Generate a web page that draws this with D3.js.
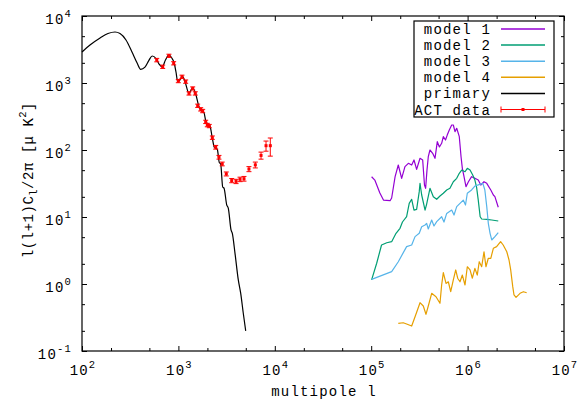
<!DOCTYPE html>
<html>
<head>
<meta charset="utf-8">
<script src="https://cdn.jsdelivr.net/npm/d3@7"></script>
<style>
  html, body { margin: 0; padding: 0; background: #fff; }
  svg { display: block; }
  text { font-family: "Liberation Mono", "Courier New", monospace; fill: #000; }
</style>
</head>
<body>
<div id="chart"></div>
<script>
// ---------- DATA ----------
const xTickValues = [1e2, 1e3, 1e4, 1e5, 1e6, 1e7];
const xTickExps   = ["2", "3", "4", "5", "6", "7"];
const yTickValues = [1e-1, 1e0, 1e1, 1e2, 1e3, 1e4];
const yTickExps   = ["-1", "0", "1", "2", "3", "4"];

const primaryL = [100,121,154,186,220,248,286,330,372,406,450,496,535,586,630,681,734,798,847,906,944,984,1040,1097,1170,1288,1407,1512,1636,1715,1844,1933,2127,2249,2356,2533,2656,2746,2881,2974,3170,3296,3515,3625,3866,4182,4426,4710,4990];
const primaryV = [2900,3690,4700,5480,5770,5480,4390,2900,2000,1600,1730,2200,2530,2320,1920,1750,2200,2620,2400,1970,1460,1046,1110,1270,1050,700,850,686,443,395,360,263,228,150,110,102,65,62,28,27,15.2,13.5,6.4,5.7,2.87,1.15,0.73,0.366,0.2];

const actL   = [596,687,798,893,998,1089,1190,1288,1407,1497,1585,1703,1786,1919,1995,2091,2249,2438,2636,2849,3140,3573,3963,4360,4790,5393,6280,7200,8110,8980];
const actV   = [2200,1750,2550,1970,1070,1240,1050,700,830,700,458,405,382,263,236,228,153,110,78,62,44,35,34,36.5,37.3,52,60,83,116,116];
const actErr = [130,100,140,110,60,70,60,40,45,40,26,23,22,15,14,13,9,7,5,4,3,2.5,2.5,2.8,3,4.5,6,10,20,35];

const model1L = [1.01e5,1.09e5,1.23e5,1.34e5,1.57e5,1.63e5,1.77e5,1.91e5,2.07e5,2.24e5,2.43e5,2.63e5,2.78e5,2.96e5,3.21e5,3.42e5,3.57e5,3.67e5,3.79e5,3.91e5,4.07e5,4.34e5,4.59e5,4.85e5,5.1e5,5.38e5,5.6e5,5.9e5,6.15e5,6.46e5,6.84e5,7.11e5,7.4e5,7.71e5,8.2e5,8.55e5,8.82e5,9.18e5,9.62e5,1.02e6,1.1e6,1.19e6,1.29e6,1.37e6,1.48e6,1.58e6,1.74e6,1.85e6,1.92e6,2.08e6];
const model1V = [39.9,35.6,22.8,17.9,17.5,19.2,40,59.7,37.8,56.4,63.3,59.7,71,51.5,75.2,71,30,26.8,50,79.4,100,89.3,75.2,133,111,126,158,141,167,199,236,236,188,211,158,79.4,53.3,40,28.3,33.6,40,37.8,35.6,30,33.6,31.8,25.3,21.3,20.1,14];

const model2L = [1.01e5,1.14e5,1.28e5,1.45e5,1.63e5,1.81e5,1.99e5,2.11e5,2.33e5,2.48e5,2.63e5,2.78e5,2.96e5,3.15e5,3.21e5,3.34e5,3.62e5,3.76e5,4.07e5,4.41e5,4.78e5,5.17e5,5.6e5,6.07e5,6.56e5,7.11e5,7.71e5,8.2e5,8.68e5,9.4e5,9.93e5,1.06e6,1.13e6,1.19e6,1.24e6,1.29e6,1.35e6,1.4e6,1.58e6,1.78e6,2.08e6];
const model2V = [1.15,2.04,3.82,4.13,4.28,5.71,6.78,8.42,10.1,16.0,18.4,12.7,13.0,23.9,31.8,21.3,12.7,15.6,26.8,20.1,18.4,20.6,22.6,25.3,26.8,33.6,37.8,44.9,50.2,47.4,53.3,50.2,42.4,35.6,27.7,17.9,10.1,9.33,9.24,9.02,8.71];

const model3L = [1.01e5,1.63e5,1.91e5,2.33e5,2.63e5,2.85e5,3.15e5,3.34e5,3.62e5,3.76e5,3.91e5,4.24e5,4.48e5,4.78e5,5.38e5,5.69e5,6.07e5,6.84e5,7.23e5,7.71e5,8.34e5,9.02e5,9.51e5,9.93e5,1.1e6,1.19e6,1.29e6,1.44e6,1.51e6,1.58e6,1.64e6,1.71e6,1.78e6,1.92e6,2.08e6];
const model3V = [1.17,1.53,2.15,3.61,3.82,5.09,5.71,7.17,7.60,8.05,6.62,9.02,7.35,8.51,10.1,8.42,11.3,12.7,10.7,14.3,16.0,17.9,15.1,22.6,25.3,29.0,30.1,31.8,25.3,14.3,8.05,5.71,4.54,5.09,5.84];

const model4L = [1.91e5,2.15e5,2.33e5,2.63e5,2.85e5,3.21e5,3.47e5,3.7e5,3.91e5,4.24e5,4.7e5,5.17e5,5.38e5,5.6e5,5.97e5,6.31e5,6.68e5,7.11e5,7.53e5,7.89e5,8.34e5,8.82e5,9.4e5,9.93e5,1.06e6,1.12e6,1.19e6,1.26e6,1.32e6,1.4e6,1.48e6,1.55e6,1.64e6,1.74e6,1.85e6,2.0e6,2.2e6,2.34e6,2.55e6,2.69e6,2.8e6,2.94e6,3.03e6,3.18e6,3.5e6,3.79e6,4.1e6];
const model4V = [0.259,0.264,0.253,0.236,0.325,0.526,0.470,0.353,0.470,0.726,0.646,0.515,0.966,1.48,1.02,1.08,0.767,1.15,1.62,1.22,1.08,1.36,0.966,1.81,1.62,1.22,1.71,1.36,2.15,1.81,3.03,1.81,2.42,2.42,3.41,3.61,4.28,3.82,3.03,2.28,1.62,0.912,0.686,0.633,0.726,0.767,0.741];

const seriesNames  = ["model 1", "model 2", "model 3", "model 4", "primary"];
const seriesColors = ["#9400d3", "#009e73", "#56b4e9", "#e69f00", "#000000"];
const actName = "ACT data";
const actColor = "#ff0000";

// ---------- CHART ----------
const W = 585, H = 402;
const M = {left: 82, right: 21, top: 16, bottom: 51};
const svg = d3.select("#chart").append("svg").attr("width", W).attr("height", H);

const x = d3.scaleLog().domain([1e2, 1e7]).range([M.left, W - M.right]);
const y = d3.scaleLog().domain([1e-1, 1e4]).range([H - M.bottom, M.top]);
const x0 = M.left, x1 = W - M.right, y0 = H - M.bottom, y1 = M.top;

const FS = "14px", LS = "1.2px", SUPFS = "10.5px";

// minor ticks (2 and 5 per decade)
const xMinor = [], yMinor = [];
xTickValues.slice(0, -1).forEach(d => { xMinor.push(2 * d, 5 * d); });
yTickValues.slice(0, -1).forEach(d => { yMinor.push(2 * d, 5 * d); });

const axisG = svg.append("g");
function drawAxis(gen, tx, ty, values, size) {
  axisG.append("g").attr("transform", `translate(${tx},${ty})`)
    .call(gen.tickValues(values).tickSizeInner(size).tickSizeOuter(0).tickFormat(""))
    .call(g => g.select(".domain").remove())
    .call(g => g.selectAll("line").attr("stroke", "#000").attr("stroke-width", 1));
}
[[xTickValues, -5], [xMinor, -3]].forEach(([v, s]) => {
  drawAxis(d3.axisBottom(x), 0, y0, v, s);
  drawAxis(d3.axisTop(x), 0, y1, v, s);
});
[[yTickValues, -5], [yMinor, -3]].forEach(([v, s]) => {
  drawAxis(d3.axisLeft(y), x0, 0, v, s);
  drawAxis(d3.axisRight(y), x1, 0, v, s);
});

// frame
svg.append("rect").attr("x", x0).attr("y", y1).attr("width", x1 - x0).attr("height", y0 - y1)
  .attr("fill", "none").attr("stroke", "#000").attr("stroke-width", 1.2);

// tick labels
xTickValues.forEach((v, i) => {
  const t = svg.append("text").attr("x", x(v) + 1).attr("y", 375).attr("text-anchor", "middle")
    .style("font-size", FS).style("letter-spacing", LS).attr("fill", "#222");
  t.append("tspan").text("10");
  t.append("tspan").attr("dy", -7).style("font-size", SUPFS).text(xTickExps[i]);
});
yTickValues.forEach((v, i) => {
  const t = svg.append("text").attr("x", 72).attr("y", y(v) + 8).attr("text-anchor", "end")
    .style("font-size", FS).style("letter-spacing", LS).attr("fill", "#222");
  t.append("tspan").text("10");
  t.append("tspan").attr("dy", -7).style("font-size", SUPFS).text(yTickExps[i]);
});

// axis titles
svg.append("text").attr("x", (x0 + x1) / 2 + 1).attr("y", 396).attr("text-anchor", "middle")
  .style("font-size", FS).style("letter-spacing", LS).attr("fill", "#222").text("multipole l");
const yl = svg.append("text").attr("transform", `translate(33,180) rotate(-90)`)
  .attr("text-anchor", "middle").style("font-size", FS).style("letter-spacing", "0.5px").attr("fill", "#222");
yl.append("tspan").text("l(l+1)C");
yl.append("tspan").attr("dy", 4).style("font-size", SUPFS).text("l");
yl.append("tspan").attr("dy", -4).text("/2π [μ K");
yl.append("tspan").attr("dy", -7).style("font-size", SUPFS).text("2");
yl.append("tspan").attr("dy", 7).text("]");

// lines
const line = d3.line().x(d => x(d[0])).y(d => y(d[1]));
const modelData = [
  [model1L, model1V], [model2L, model2V], [model3L, model3V], [model4L, model4V]
];
modelData.forEach(([L, V], i) => {
  svg.append("path").datum(L.map((l, j) => [l, V[j]]))
    .attr("d", line).attr("fill", "none").attr("stroke", seriesColors[i]).attr("stroke-width", 1.2)
    .attr("stroke-linejoin", "round");
});
svg.append("path").datum(primaryL.map((l, j) => [l, primaryV[j]]))
  .attr("d", line.curve(d3.curveMonotoneX)).attr("fill", "none").attr("stroke", seriesColors[4])
  .attr("stroke-width", 1.2);

// ACT data with error bars
const act = svg.append("g").attr("stroke", actColor).attr("fill", actColor);
actL.forEach((l, j) => {
  const cx = x(l), cy = y(actV[j]);
  const yt = y(actV[j] + actErr[j]), yb = y(actV[j] - actErr[j]);
  act.append("line").attr("x1", cx).attr("x2", cx).attr("y1", yt).attr("y2", yb).attr("stroke-width", 1);
  act.append("line").attr("x1", cx - 2.5).attr("x2", cx + 2.5).attr("y1", yt).attr("y2", yt).attr("stroke-width", 1);
  act.append("line").attr("x1", cx - 2.5).attr("x2", cx + 2.5).attr("y1", yb).attr("y2", yb).attr("stroke-width", 1);
  act.append("rect").attr("x", cx - 1.5).attr("y", cy - 1.5).attr("width", 3).attr("height", 3).attr("stroke", "none");
});

// legend
const lg = svg.append("g");
lg.append("rect").attr("x", 414).attr("y", 21).attr("width", 140).attr("height", 96)
  .attr("fill", "#fff").attr("stroke", "#000").attr("stroke-width", 1.2);
const rowY = i => 29 + i * 16.1;
seriesNames.forEach((n, i) => {
  lg.append("text").attr("x", 491).attr("y", rowY(i) + 5).attr("text-anchor", "end")
    .style("font-size", FS).style("letter-spacing", LS).text(n);
  lg.append("line").attr("x1", 501).attr("x2", 545).attr("y1", rowY(i)).attr("y2", rowY(i))
    .attr("stroke", seriesColors[i]).attr("stroke-width", 1.5);
});
{
  const ry = rowY(5);
  lg.append("text").attr("x", 491).attr("y", ry + 5).attr("text-anchor", "end")
    .style("font-size", FS).style("letter-spacing", LS).text(actName);
  lg.append("line").attr("x1", 501).attr("x2", 545).attr("y1", ry).attr("y2", ry).attr("stroke", actColor);
  lg.append("line").attr("x1", 501).attr("x2", 501).attr("y1", ry - 3).attr("y2", ry + 3).attr("stroke", actColor);
  lg.append("line").attr("x1", 545).attr("x2", 545).attr("y1", ry - 3).attr("y2", ry + 3).attr("stroke", actColor);
  lg.append("rect").attr("x", 521.5).attr("y", ry - 1.5).attr("width", 3).attr("height", 3).attr("fill", actColor);
}
</script>
</body>
</html>
